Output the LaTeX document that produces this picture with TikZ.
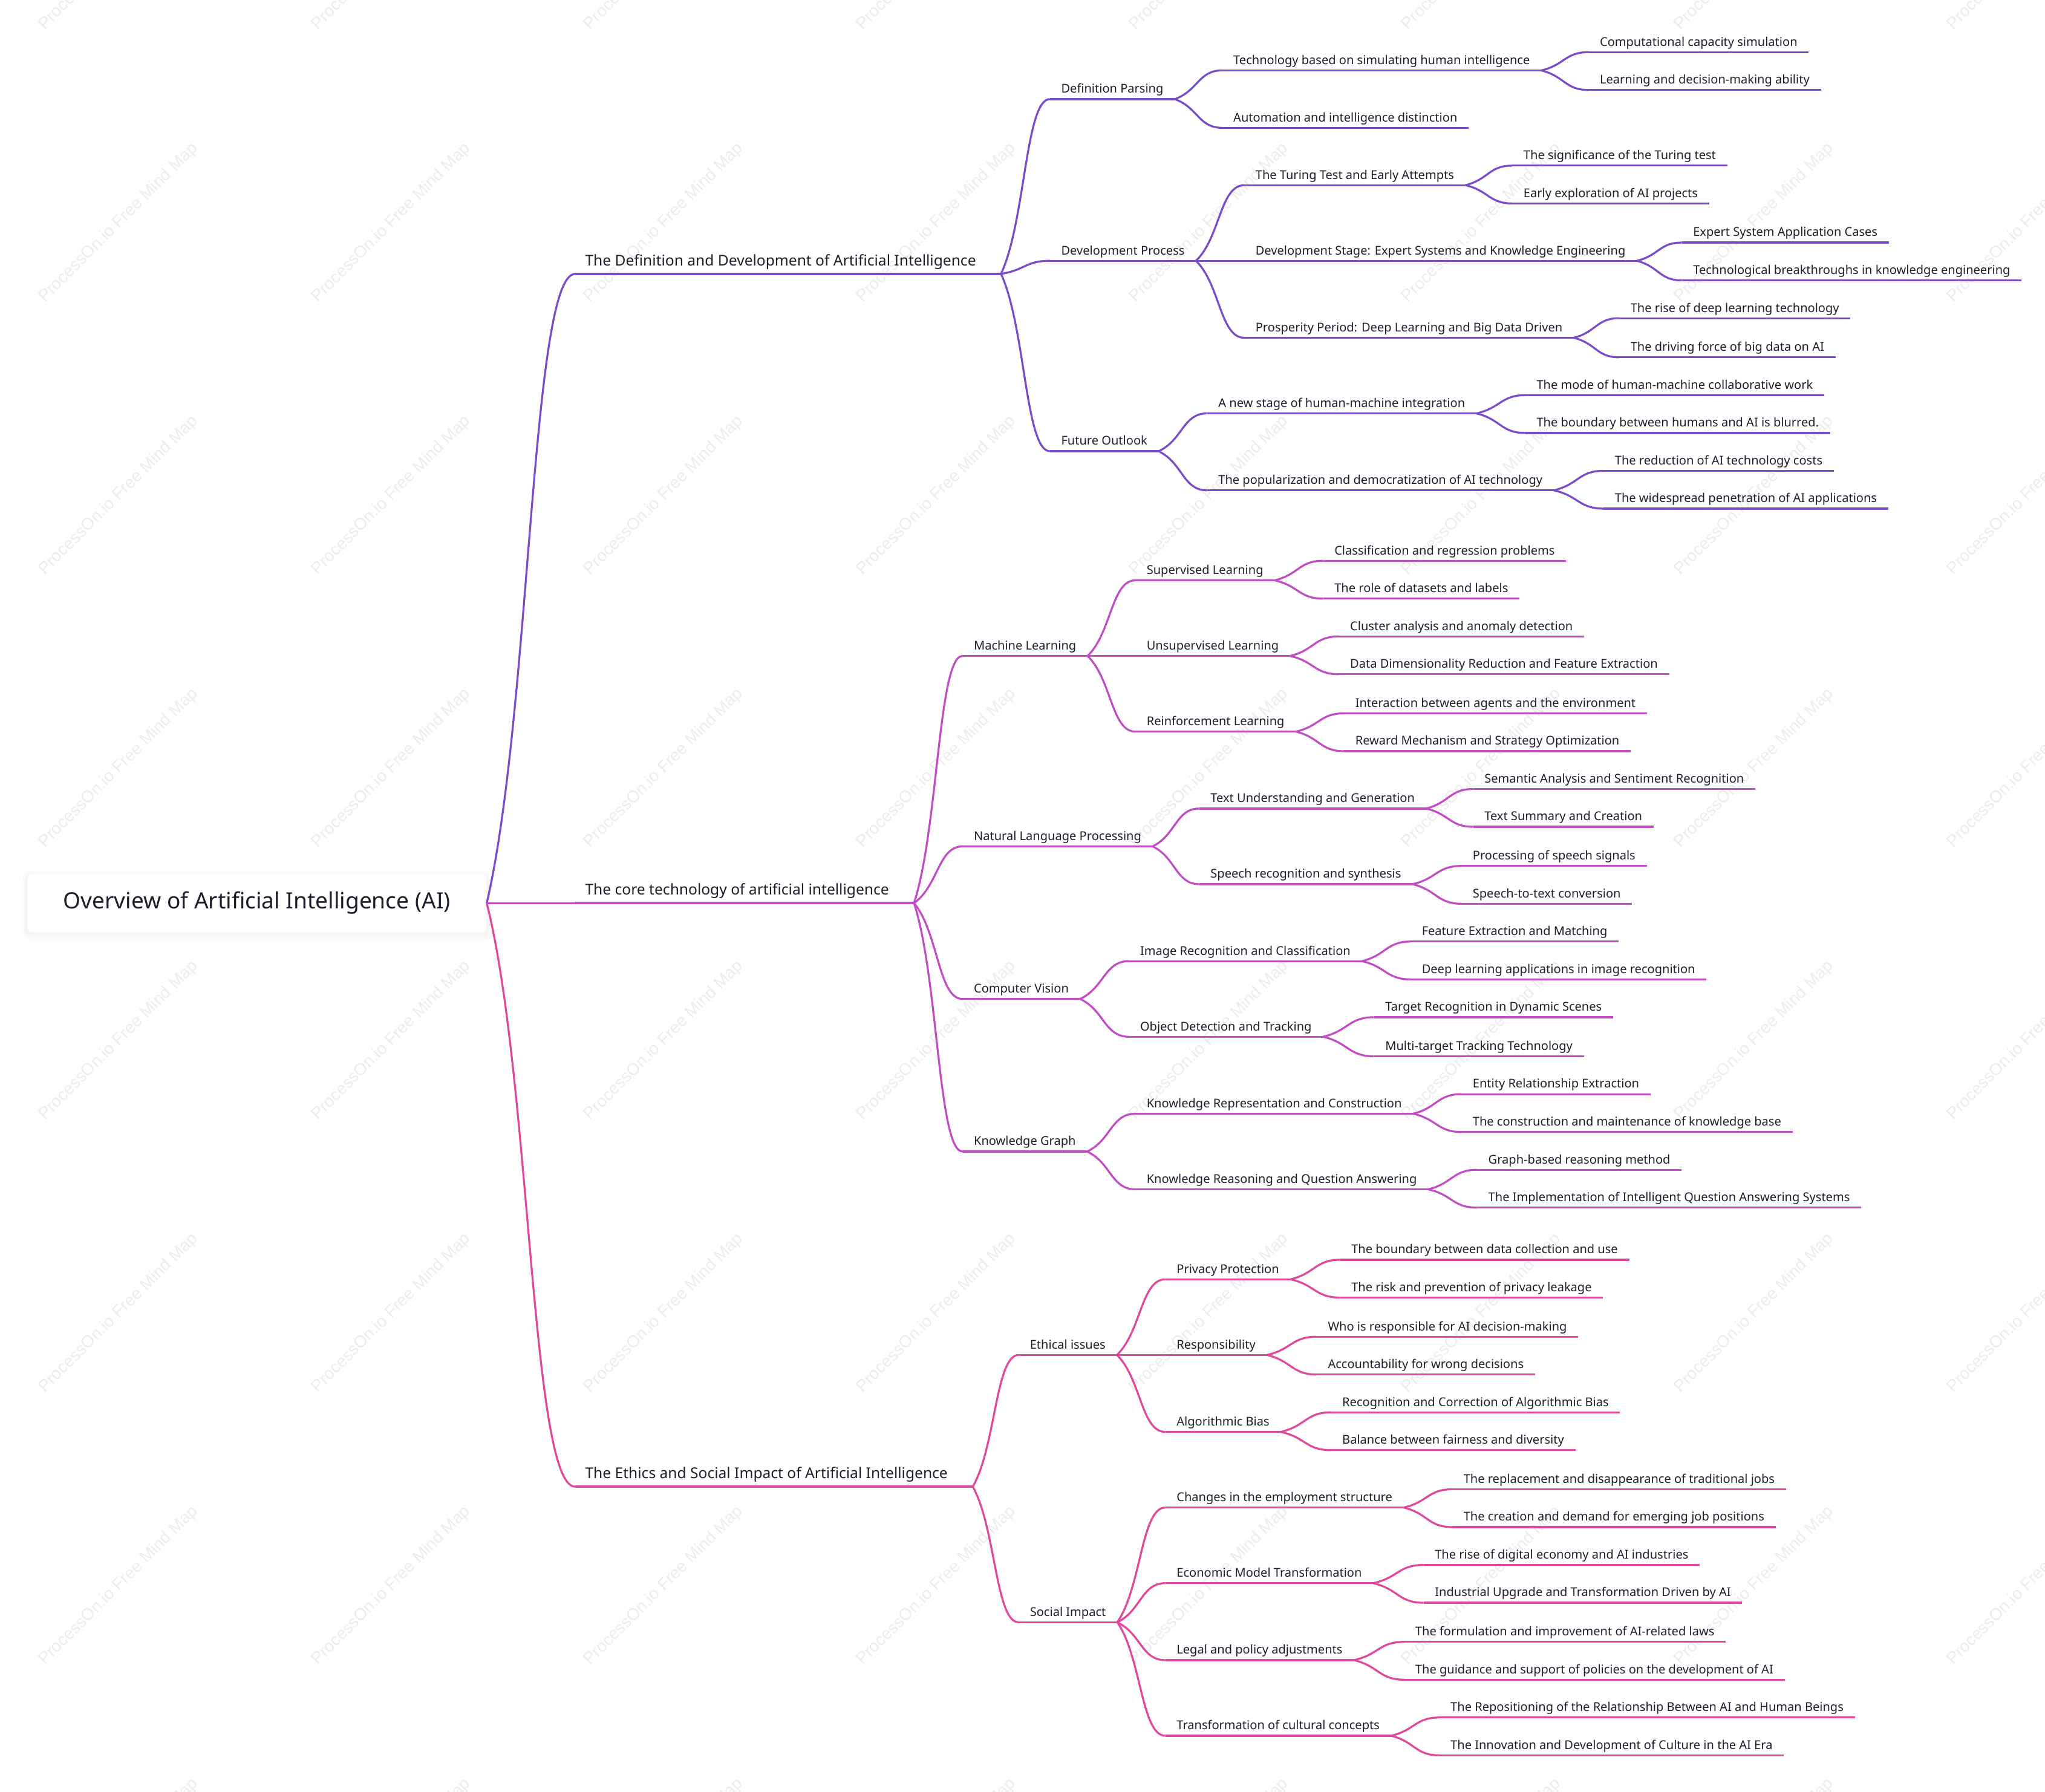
\documentclass[tikz,border=0pt]{standalone}
\usepackage{fontspec}
\setmainfont{Noto Sans}
\newfontfamily\wmfont{Liberation Sans}
\usetikzlibrary{calc}
\definecolor{brpurple}{RGB}{122,76,201}
\definecolor{brmagenta}{RGB}{194,76,196}
\definecolor{brpink}{RGB}{224,72,155}
\definecolor{inkdark}{RGB}{30,30,45}
\definecolor{wmgray}{RGB}{236,236,236}
% curved branch from the end of one underline to the start of the next
\newcommand{\mmlink}[3]{%
  \draw[#1, line width=1.5pt] let \p1=(#2), \p2=(#3) in
    (\p1) .. controls ({\x1+0.5*(\x2-\x1)},{\y1+0.3*(\y2-\y1)}) and ({\x1+0.5*(\x2-\x1)},\y2) .. (\p2);}

\begin{document}
\begin{tikzpicture}[x=1pt, y=-1pt,
  leaf/.style={anchor=south west, inner xsep=8.5pt, inner ysep=0pt, text height=7pt, text depth=4.5pt,
    font=\fontsize{9.3}{11}\selectfont, text=inkdark},
  topic/.style={leaf, inner xsep=7.5pt, text height=9pt, text depth=6pt, font=\fontsize{11.4}{14}\selectfont},
  rootbox/.style={fill=white, rounded corners=4pt, minimum width=352pt, minimum height=45pt,
    font=\fontsize{17.2}{20}\selectfont, text=inkdark},
  uline/.style={line width=1.5pt},
  wmark/.style={rotate=45, text=wmgray, font=\wmfont\fontsize{12.8}{14}\selectfont}]
\useasboundingbox (0,0) rectangle (1568,1374);

% watermark
\begin{scope}
\clip (0,0) rectangle (1568,1374);
\foreach \i in {0,...,7} {
  \foreach \j in {-1,...,6} {
    \node[wmark] (wm-\i-\j) at ({91+209*\i},{171+209*\j}) {ProcessOn.io Free Mind Map};
  }
}
\end{scope}

% root
\fill[black!2, rounded corners=7pt] (17,668) rectangle (377,721);
\fill[black!4, rounded corners=5pt] (19,670) rectangle (375,718);
\node[rootbox] (root) at (197,692.5) {Overview of Artificial Intelligence (AI)};

% branch 1
\node[topic] (A) at (441,210) {The Definition and Development of Artificial Intelligence\hspace*{11.5pt}};
\node[leaf] (A1) at (805,76) {Definition Parsing};
\node[leaf] (A11) at (937,54) {Technology based on simulating human intelligence};
\node[leaf] (A111) at (1218,40) {Computational capacity simulation};
\node[leaf] (A112) at (1218,69) {Learning and decision-making ability};
\node[leaf] (A12) at (937,98) {Automation and intelligence distinction};
\node[leaf] (A2) at (805,200) {Development Process};
\node[leaf] (A21) at (954,142) {The Turing Test and Early Attempts};
\node[leaf] (A211) at (1159.5,127) {The significance of the Turing test};
\node[leaf] (A212) at (1159.5,156) {Early exploration of AI projects};
\node[leaf] (A22) at (954,200) {Development Stage: Expert Systems and Knowledge Engineering};
\node[leaf] (A221) at (1289.5,186) {Expert System Application Cases};
\node[leaf] (A222) at (1289.5,215) {Technological breakthroughs in knowledge engineering};
\node[leaf] (A23) at (954,259) {Prosperity Period: Deep Learning and Big Data Driven};
\node[leaf] (A231) at (1241.5,244) {The rise of deep learning technology};
\node[leaf] (A232) at (1241.5,274) {The driving force of big data on AI};
\node[leaf] (A3) at (805,346) {Future Outlook};
\node[leaf] (A31) at (925.5,317) {A new stage of human-machine integration};
\node[leaf] (A311) at (1169.5,303) {The mode of human-machine collaborative work};
\node[leaf] (A312) at (1169.5,332) {The boundary between humans and AI is blurred.};
\node[leaf] (A32) at (925.5,376) {The popularization and democratization of AI technology};
\node[leaf] (A321) at (1229.5,361) {The reduction of AI technology costs};
\node[leaf] (A322) at (1229.5,390) {The widespread penetration of AI applications};

% branch 2
\node[topic] (B) at (441,692.5) {The core technology of artificial intelligence\hspace*{11.5pt}};
\node[leaf] (B1) at (738,503) {Machine Learning};
\node[leaf] (B11) at (870.5,445) {Supervised Learning};
\node[leaf] (B111) at (1014.5,430) {Classification and regression problems};
\node[leaf] (B112) at (1014.5,459) {The role of datasets and labels};
\node[leaf] (B12) at (870.5,503) {Unsupervised Learning};
\node[leaf] (B121) at (1026.5,488) {Cluster analysis and anomaly detection};
\node[leaf] (B122) at (1026.5,517) {Data Dimensionality Reduction and Feature Extraction};
\node[leaf] (B13) at (870.5,561) {Reinforcement Learning};
\node[leaf] (B131) at (1030.5,547) {Interaction between agents and the environment};
\node[leaf] (B132) at (1030.5,576) {Reward Mechanism and Strategy Optimization};
\node[leaf] (B2) at (738,649) {Natural Language Processing};
\node[leaf] (B21) at (919.5,620) {Text Understanding and Generation};
\node[leaf] (B211) at (1129.5,605) {Semantic Analysis and Sentiment Recognition};
\node[leaf] (B212) at (1129.5,634) {Text Summary and Creation};
\node[leaf] (B22) at (919.5,678) {Speech recognition and synthesis};
\node[leaf] (B221) at (1120.5,664) {Processing of speech signals};
\node[leaf] (B222) at (1120.5,693) {Speech-to-text conversion};
\node[leaf] (B3) at (738,766) {Computer Vision};
\node[leaf] (B31) at (865.5,737) {Image Recognition and Classification};
\node[leaf] (B311) at (1081.5,722) {Feature Extraction and Matching};
\node[leaf] (B312) at (1081.5,751) {Deep learning applications in image recognition};
\node[leaf] (B32) at (865.5,795) {Object Detection and Tracking};
\node[leaf] (B321) at (1053.5,780) {Target Recognition in Dynamic Scenes};
\node[leaf] (B322) at (1053.5,810) {Multi-target Tracking Technology};
\node[leaf] (B4) at (738,883) {Knowledge Graph};
\node[leaf] (B41) at (870.5,854) {Knowledge Representation and Construction};
\node[leaf] (B411) at (1120.5,839) {Entity Relationship Extraction};
\node[leaf] (B412) at (1120.5,868) {The construction and maintenance of knowledge base};
\node[leaf] (B42) at (870.5,912) {Knowledge Reasoning and Question Answering};
\node[leaf] (B421) at (1132.5,897) {Graph-based reasoning method};
\node[leaf] (B422) at (1132.5,926) {The Implementation of Intelligent Question Answering Systems};

% branch 3
\node[topic] (C) at (441,1140) {The Ethics and Social Impact of Artificial Intelligence\hspace*{11.5pt}};
\node[leaf] (C1) at (781,1039) {Ethical issues};
\node[leaf] (C11) at (893.5,981) {Privacy Protection};
\node[leaf] (C111) at (1027.5,966) {The boundary between data collection and use};
\node[leaf] (C112) at (1027.5,995) {The risk and prevention of privacy leakage};
\node[leaf] (C12) at (893.5,1039) {Responsibility};
\node[leaf] (C121) at (1009.5,1025) {Who is responsible for AI decision-making};
\node[leaf] (C122) at (1009.5,1054) {Accountability for wrong decisions};
\node[leaf] (C13) at (893.5,1098) {Algorithmic Bias};
\node[leaf] (C131) at (1020.5,1083) {Recognition and Correction of Algorithmic Bias};
\node[leaf] (C132) at (1020.5,1112) {Balance between fairness and diversity};
\node[leaf] (C2) at (781,1244) {Social Impact};
\node[leaf] (C21) at (893.5,1156) {Changes in the employment structure};
\node[leaf] (C211) at (1113.5,1142) {The replacement and disappearance of traditional jobs};
\node[leaf] (C212) at (1113.5,1171) {The creation and demand for emerging job positions};
\node[leaf] (C22) at (893.5,1214) {Economic Model Transformation};
\node[leaf] (C221) at (1091.5,1200) {The rise of digital economy and AI industries};
\node[leaf] (C222) at (1091.5,1229) {Industrial Upgrade and Transformation Driven by AI};
\node[leaf] (C23) at (893.5,1273) {Legal and policy adjustments};
\node[leaf] (C231) at (1076.5,1259) {The formulation and improvement of AI-related laws};
\node[leaf] (C232) at (1076.5,1288) {The guidance and support of policies on the development of AI};
\node[leaf] (C24) at (893.5,1331) {Transformation of cultural concepts};
\node[leaf] (C241) at (1103.5,1317) {The Repositioning of the Relationship Between AI and Human Beings};
\node[leaf] (C242) at (1103.5,1346) {The Innovation and Development of Culture in the AI Era};

% connectors and underlines
\mmlink{brpurple}{root.east}{A.south west}
\mmlink{brmagenta}{root.east}{B.south west}
\mmlink{brpink}{root.east}{C.south west}
\draw[brpurple, line width=1.8pt] (A.south west) -- (A.south east);
\draw[brmagenta, line width=1.8pt] (B.south west) -- (B.south east);
\draw[brpink, line width=1.8pt] (C.south west) -- (C.south east);
\foreach \a/\b in {A/A1, A1/A11, A11/A111, A11/A112, A1/A12, A/A2, A2/A21, A21/A211, A21/A212,
    A2/A22, A22/A221, A22/A222, A2/A23, A23/A231, A23/A232, A/A3, A3/A31, A31/A311, A31/A312,
    A3/A32, A32/A321, A32/A322} {
  \mmlink{brpurple}{\a.south east}{\b.south west}
  \draw[uline, brpurple] (\b.south west) -- (\b.south east);
}
\foreach \a/\b in {B/B1, B1/B11, B11/B111, B11/B112, B1/B12, B12/B121, B12/B122, B1/B13, B13/B131,
    B13/B132, B/B2, B2/B21, B21/B211, B21/B212, B2/B22, B22/B221, B22/B222, B/B3, B3/B31, B31/B311,
    B31/B312, B3/B32, B32/B321, B32/B322, B/B4, B4/B41, B41/B411, B41/B412, B4/B42, B42/B421, B42/B422} {
  \mmlink{brmagenta}{\a.south east}{\b.south west}
  \draw[uline, brmagenta] (\b.south west) -- (\b.south east);
}
\foreach \a/\b in {C/C1, C1/C11, C11/C111, C11/C112, C1/C12, C12/C121, C12/C122, C1/C13, C13/C131,
    C13/C132, C/C2, C2/C21, C21/C211, C21/C212, C2/C22, C22/C221, C22/C222, C2/C23, C23/C231,
    C23/C232, C2/C24, C24/C241, C24/C242} {
  \mmlink{brpink}{\a.south east}{\b.south west}
  \draw[uline, brpink] (\b.south west) -- (\b.south east);
}
\end{tikzpicture}
\end{document}
